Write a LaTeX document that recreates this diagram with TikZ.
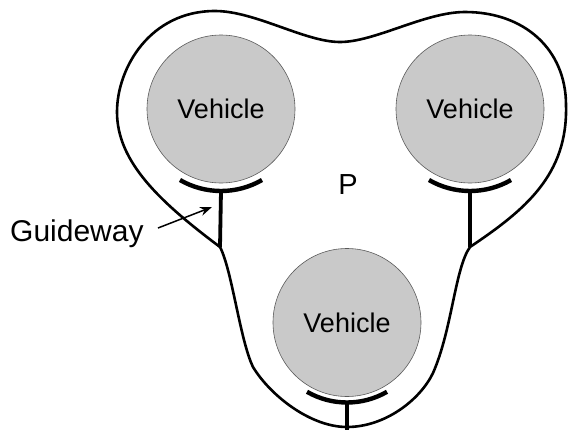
\documentclass[tikz,border=0pt]{standalone}
\usepackage{fontspec}
\setmainfont{Liberation Sans}
\usetikzlibrary{arrows.meta}
\definecolor{vehfill}{RGB}{201,201,201}
\definecolor{vehedge}{RGB}{90,90,90}
\tikzset{
  vehicle/.style={circle, fill=vehfill, draw=vehedge, line width=0.6pt, minimum size=148pt, inner sep=0pt, font=\fontsize{27}{32}\selectfont},
  outline/.style={line width=2.6pt, line join=round, line cap=round},
  rail/.style={line width=4.4pt},
  stem/.style={line width=3.8pt},
  pointer/.style={line width=1.5pt, -{Stealth[length=12pt,width=9pt]}},
  label/.style={inner sep=0pt}
}
\begin{document}
\begin{tikzpicture}[x=1pt,y=-1pt]
\useasboundingbox (0,0) rectangle (568,429);
% junction points on the outline
\coordinate (j1) at (220,247);
\coordinate (j2) at (470,247);
\coordinate (j3) at (347,432);
% outline
\draw[outline] (j1)
  .. controls (160,202) and (117,162) .. (117,112)
  .. controls (117,68) and (150,11) .. (215,11)
  .. controls (255,11) and (305,42) .. (340,42)
  .. controls (375,42) and (425,12) .. (465,12)
  .. controls (525,12) and (566,50) .. (566,105)
  .. controls (568,175) and (525,210) .. (j2)
  .. controls (455,268) and (452,330) .. (433,373)
  .. controls (420,400) and (385,427) .. (347,427)
  .. controls (310,427) and (270,395) .. (253,367)
  .. controls (240,340) and (232,270) .. (j1) -- cycle;
% vehicles
\node[vehicle] (v1) at (221,109) {Vehicle};
\node[vehicle] (v2) at (470,109) {Vehicle};
\node[vehicle] (v3) at (347,322.5) {Vehicle};
% guideways
\draw[rail] (v1.center) ++(60:82) arc[start angle=60, end angle=120, radius=82];
\draw[rail] (v2.center) ++(60:82) arc[start angle=60, end angle=120, radius=82];
\draw[rail] (v3.center) ++(60:80) arc[start angle=60, end angle=120, radius=80];
\coordinate (b1) at ([yshift=-82pt]v1.center);
\coordinate (b2) at ([yshift=-82pt]v2.center);
\coordinate (b3) at ([yshift=-80pt]v3.center);
\draw[stem] (b1) -- (j1);
\draw[stem] (b2) -- (j2);
\draw[stem] (b3) -- (j3);
% labels
\node[label, anchor=base, font=\fontsize{29}{34}\selectfont] (p) at (348,194.3) {P};
\node[label, anchor=base west, font=\fontsize{30}{36}\selectfont] (gw) at (10,241) {Guideway};
\coordinate (gtail) at (158,228);
\coordinate (gtip) at (212,207);
\draw[pointer] (gtail) -- (gtip);
\end{tikzpicture}
\end{document}
